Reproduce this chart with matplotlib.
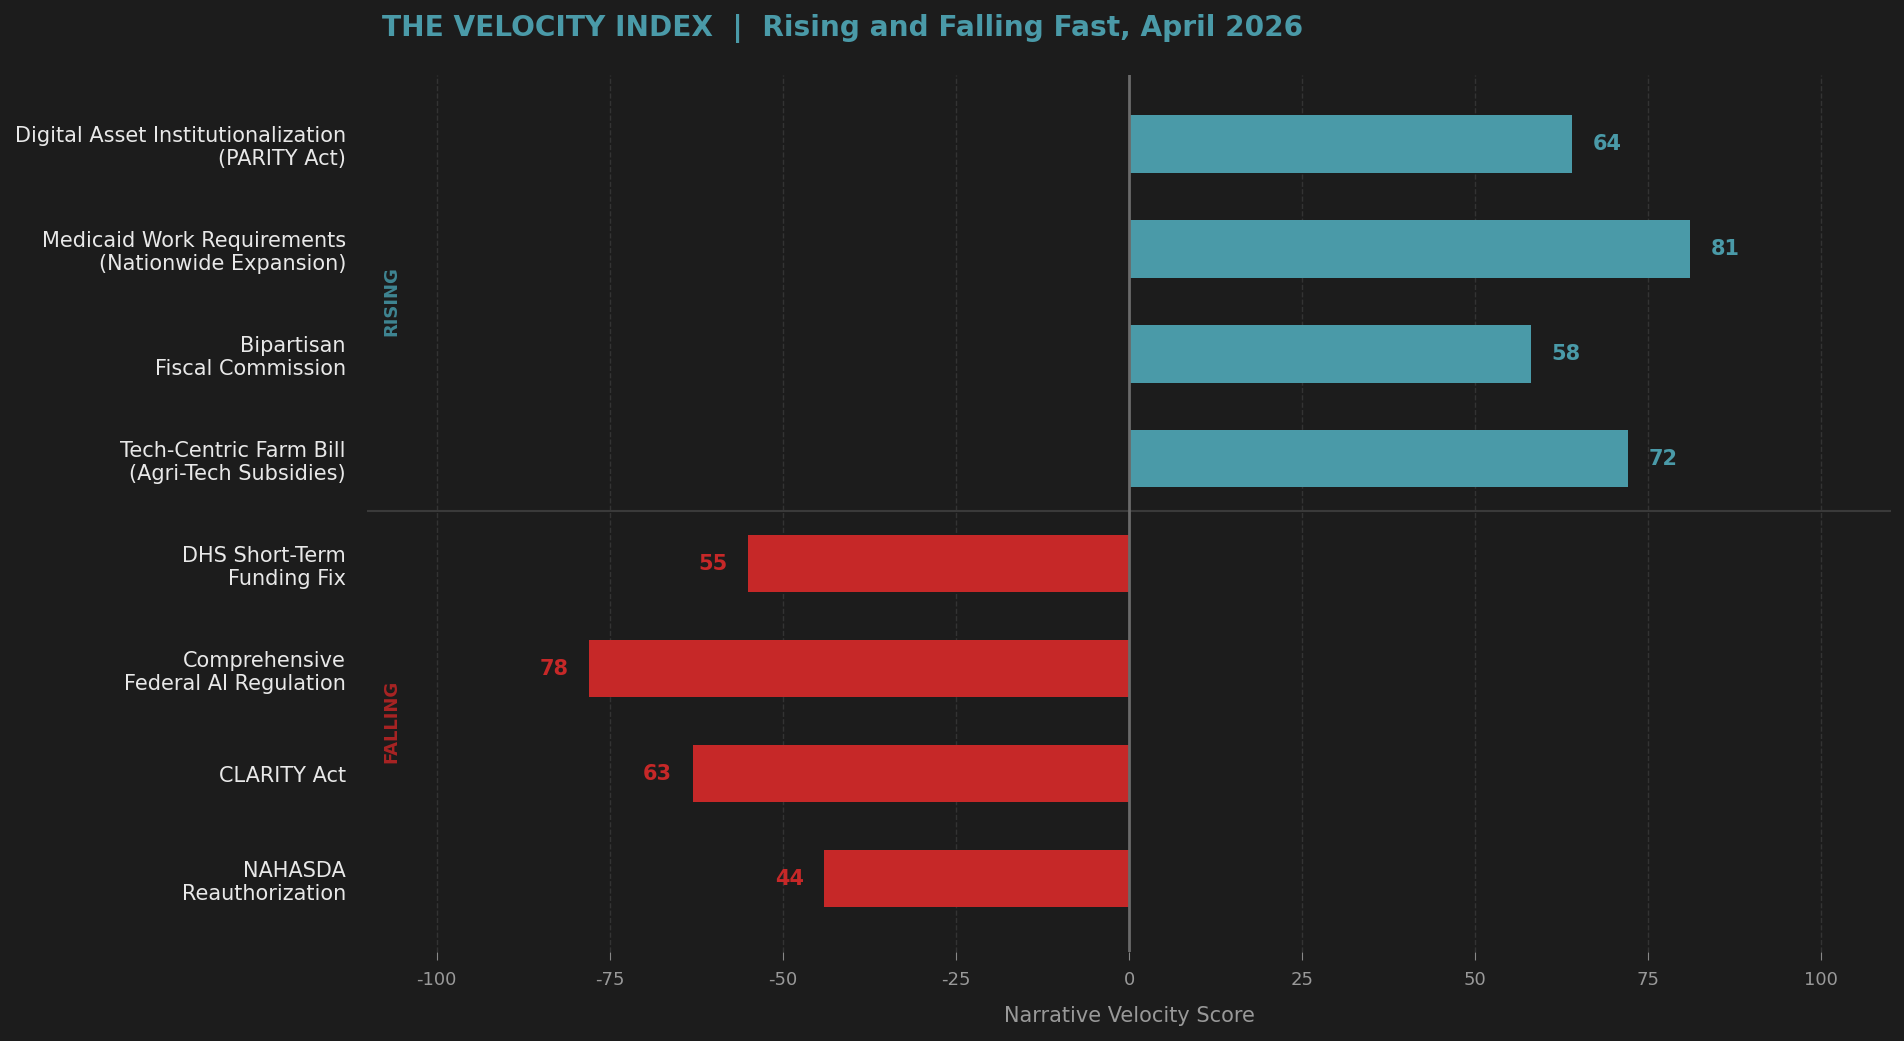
import matplotlib.pyplot as plt

labels = ["Digital Asset Institutionalization\n(PARITY Act)",
          "Medicaid Work Requirements\n(Nationwide Expansion)",
          "Bipartisan\nFiscal Commission",
          "Tech-Centric Farm Bill\n(Agri-Tech Subsidies)",
          "DHS Short-Term\nFunding Fix",
          "Comprehensive\nFederal AI Regulation",
          "CLARITY Act",
          "NAHASDA\nReauthorization"]
scores = [64, 81, 58, 72, -55, -78, -63, -44]
xticks = [-100, -75, -50, -25, 0, 25, 50, 75, 100]

bg = '#1c1c1c'
teal = '#4a9aa8'
red = '#c62828'

fig = plt.figure(figsize=(19.04, 10.41), dpi=100, facecolor=bg)
ax = fig.add_axes([0.193, 0.0855, 0.8, 0.8425])
ax.set_facecolor(bg)

y = list(range(len(labels)))
colors = [teal if s > 0 else red for s in scores]
ax.barh(y, scores, height=0.55, color=colors, zorder=3)

for i, s in enumerate(scores):
    if s > 0:
        ax.text(s + 3, i, str(abs(s)), ha='left', va='center', color=teal,
                fontsize=15, fontweight='bold', zorder=4)
    else:
        ax.text(s - 3, i, str(abs(s)), ha='right', va='center', color=red,
                fontsize=15, fontweight='bold', zorder=4)

ax.axvline(0, color='#6a6a6a', lw=2, zorder=4)
ax.axhline(3.5, color='#3a3a3a', lw=1.5, zorder=2)

ax.text(-106.5, 1.5, 'RISING', rotation=90, ha='center', va='center',
        color='#3f8592', fontsize=13, fontweight='bold')
ax.text(-106.5, 5.5, 'FALLING', rotation=90, ha='center', va='center',
        color='#a82424', fontsize=13, fontweight='bold')

ax.set_xlim(-110, 110)
ax.set_ylim(7.7, -0.655)
ax.set_yticks(y)
ax.set_yticklabels(labels, fontsize=15, color='#e8e8e8')
ax.set_xticks(xticks)
ax.set_xticklabels([str(t) for t in xticks], fontsize=13, color='#999999')
ax.tick_params(axis='y', length=0, pad=15.5)
ax.tick_params(axis='x', length=6, color='#888888', pad=8)
ax.grid(axis='x', color='#333333', ls='--', lw=1, zorder=0)
for sp in ax.spines.values():
    sp.set_visible(False)

ax.set_xlabel('Narrative Velocity Score', fontsize=15, color='#999999', labelpad=12)

fig.text(0.2005, 0.973, 'THE VELOCITY INDEX  |  Rising and Falling Fast, April 2026',
         ha='left', va='center', color=teal, fontsize=20.2, fontweight='bold')

fig.savefig('out.png', dpi=100, facecolor=bg)
